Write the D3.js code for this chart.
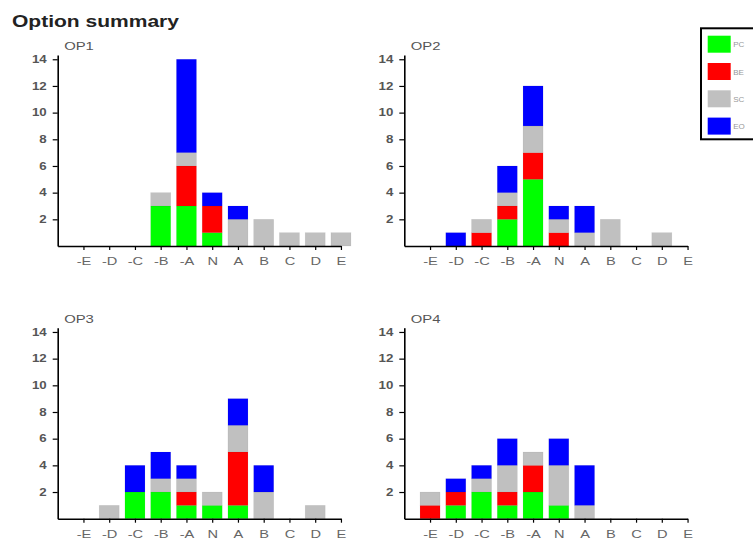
<!DOCTYPE html>
<html>
<head>
<meta charset="utf-8">
<script src="https://cdn.jsdelivr.net/npm/d3@7"></script>
<style>
  body { margin: 0; background: #fff; }
  svg { display: block; font-family: "Liberation Sans", Arial, sans-serif; }
</style>
</head>
<body>
<div id="chart"></div>
<script>
// categories on the x axis
const categories = ["-E", "-D", "-C", "-B", "-A", "N", "A", "B", "C", "D", "E"];
const seriesKeys = ["PC", "BE", "SC", "EO"];
const yTicks = [2, 4, 6, 8, 10, 12, 14];

// OP1
const op1PC = [0, 0, 0, 3, 3, 1, 0, 0, 0, 0, 0];
const op1BE = [0, 0, 0, 0, 3, 2, 0, 0, 0, 0, 0];
const op1SC = [0, 0, 0, 1, 1, 0, 2, 2, 1, 1, 1];
const op1EO = [0, 0, 0, 0, 7, 1, 1, 0, 0, 0, 0];
// OP2
const op2PC = [0, 0, 0, 2, 5, 0, 0, 0, 0, 0, 0];
const op2BE = [0, 0, 1, 1, 2, 1, 0, 0, 0, 0, 0];
const op2SC = [0, 0, 1, 1, 2, 1, 1, 2, 0, 1, 0];
const op2EO = [0, 1, 0, 2, 3, 1, 2, 0, 0, 0, 0];
// OP3
const op3PC = [0, 0, 2, 2, 1, 1, 1, 0, 0, 0, 0];
const op3BE = [0, 0, 0, 0, 1, 0, 4, 0, 0, 0, 0];
const op3SC = [0, 1, 0, 1, 1, 1, 2, 2, 0, 1, 0];
const op3EO = [0, 0, 2, 2, 1, 0, 2, 2, 0, 0, 0];
// OP4
const op4PC = [0, 1, 2, 1, 2, 1, 0, 0, 0, 0, 0];
const op4BE = [1, 1, 0, 1, 2, 0, 0, 0, 0, 0, 0];
const op4SC = [1, 0, 1, 2, 1, 3, 1, 0, 0, 0, 0];
const op4EO = [0, 1, 1, 2, 0, 2, 3, 0, 0, 0, 0];

const options = [
    { name: "OP1", series: [op1PC, op1BE, op1SC, op1EO] },
    { name: "OP2", series: [op2PC, op2BE, op2SC, op2EO] },
    { name: "OP3", series: [op3PC, op3BE, op3SC, op3EO] },
    { name: "OP4", series: [op4PC, op4BE, op4SC, op4EO] }
];

const colors = { PC: "#00ff00", BE: "#ff0000", SC: "#c0c0c0", EO: "#0000ff" };

const W = 753, H = 539;
const svg = d3.select("#chart").append("svg")
    .attr("width", W)
    .attr("height", H);

// title
svg.append("text")
    .attr("x", 12)
    .attr("y", 27)
    .attr("font-size", 16)
    .attr("font-weight", "bold")
    .attr("fill", "#222")
    .attr("textLength", 167)
    .attr("lengthAdjust", "spacingAndGlyphs")
    .text("Option summary");

// panel origins (axis corner)
const origins = [
    { x: 57.7, y: 246 },
    { x: 404.3, y: 246 },
    { x: 57.7, y: 518.7 },
    { x: 404.3, y: 518.7 }
];

const step = 25.75;
const plotW = step * 11;
const plotH = 191;
const barW = 20;
const stretch = 1.33;

const x = d3.scaleLinear().domain([0, 11]).range([0, plotW]);
const y = d3.scaleLinear().domain([0, 14.32]).range([plotH, 0]);
const color = d3.scaleOrdinal().domain(seriesKeys).range(seriesKeys.map(k => colors[k]));

options.forEach((op, pi) => {
    const o = origins[pi];
    const g = svg.append("g")
        .attr("transform", `translate(${o.x},${o.y - plotH})`);

    const rows = categories.map((c, i) => {
        const r = { cat: c, idx: i };
        seriesKeys.forEach((k, si) => { r[k] = op.series[si][i]; });
        return r;
    });
    const stacked = d3.stack().keys(seriesKeys)(rows);

    // bars
    g.selectAll("g.layer")
        .data(stacked)
        .enter()
        .append("g")
        .attr("class", "layer")
        .attr("fill", d => color(d.key))
        .selectAll("rect")
        .data(d => d.filter(v => v[1] - v[0] > 0))
        .enter()
        .append("rect")
        .attr("x", d => x(d.data.idx + 1) - barW / 2)
        .attr("y", d => y(d[1]))
        .attr("width", barW)
        .attr("height", d => y(d[0]) - y(d[1]))
        .attr("stroke", "rgba(0,0,0,0.08)")
        .attr("stroke-width", 0.6);

    // y axis
    const yAxis = g.append("g")
        .call(d3.axisLeft(y).tickValues(yTicks).tickSize(5).tickSizeOuter(0));
    yAxis.select(".domain").attr("stroke", "#000").attr("stroke-width", 1.6);
    yAxis.selectAll(".tick line").attr("stroke", "#000").attr("stroke-width", 1.2);
    yAxis.selectAll(".tick text")
        .attr("font-size", 10)
        .attr("font-weight", "bold")
        .attr("fill", "#555")
        .attr("font-family", "\"Liberation Sans\", Arial, sans-serif")
        .attr("x", -11 / stretch)
        .attr("transform", `scale(${stretch},1)`);

    // x axis
    const xAxis = g.append("g")
        .attr("transform", `translate(0,${plotH})`)
        .call(d3.axisBottom(x)
            .tickValues(d3.range(1, 12))
            .tickFormat(d => categories[d - 1])
            .tickSize(4)
            .tickPadding(7)
            .tickSizeOuter(0));
    xAxis.select(".domain").attr("stroke", "#000").attr("stroke-width", 1.6);
    xAxis.selectAll(".tick line").attr("stroke", "#000").attr("stroke-width", 1.2);
    xAxis.selectAll(".tick text")
        .attr("font-size", 11)
        .attr("fill", "#666")
        .attr("font-family", "\"Liberation Sans\", Arial, sans-serif")
        .attr("transform", `scale(${stretch},1)`);

    // panel label
    g.append("text")
        .attr("x", 6.5 / 1.35)
        .attr("y", plotH - 196)
        .attr("font-size", 11)
        .attr("fill", "#555")
        .attr("transform", "scale(1.35,1)")
        .text(op.name);
});

// legend
const legend = svg.append("g")
    .attr("transform", "translate(701,28.3)");
legend.append("rect")
    .attr("width", 70)
    .attr("height", 111)
    .attr("fill", "#fff")
    .attr("stroke", "#000")
    .attr("stroke-width", 2);
seriesKeys.forEach((k, i) => {
    const lg = legend.append("g")
        .attr("transform", `translate(6.7,${7.4 + i * 27.3})`);
    lg.append("rect")
        .attr("width", 23)
        .attr("height", 17)
        .attr("fill", color(k));
    lg.append("text")
        .attr("x", 25.5)
        .attr("y", 11.5)
        .attr("font-size", 8)
        .attr("fill", "#999")
        .text(k);
});
</script>
</body>
</html>
